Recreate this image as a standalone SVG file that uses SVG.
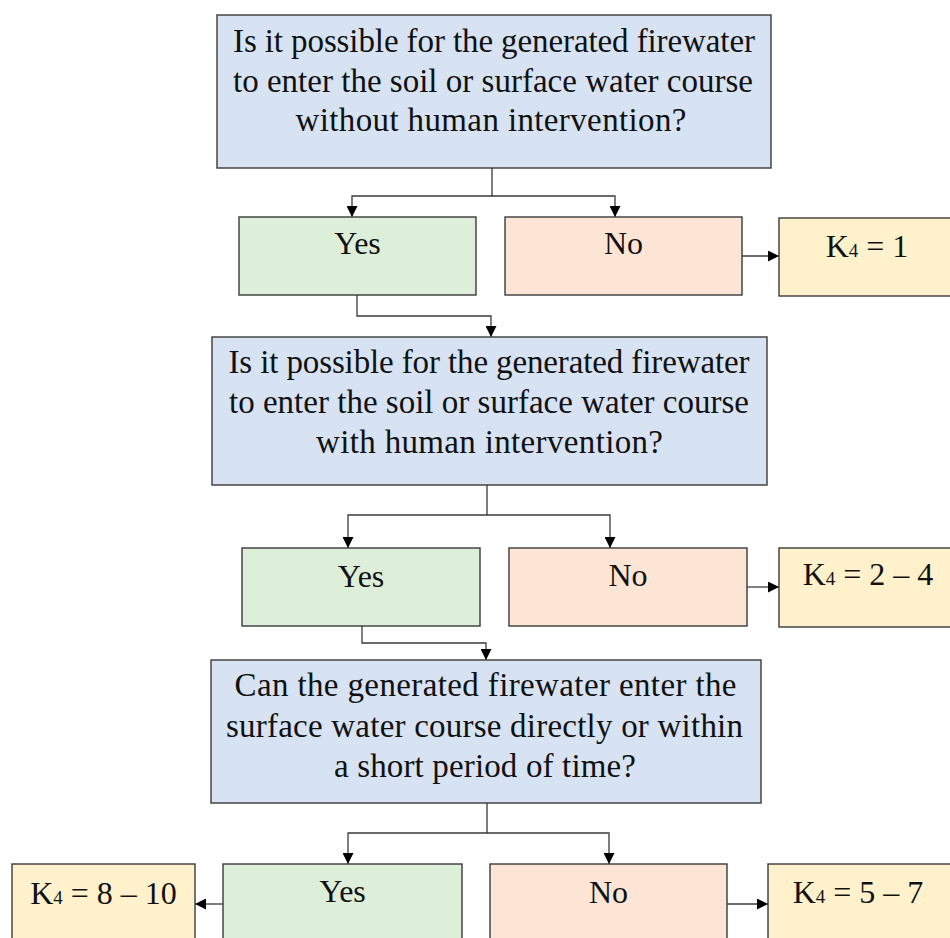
<svg xmlns="http://www.w3.org/2000/svg" width="950" height="938" viewBox="0 0 950 938">
  <defs>
    <marker id="arrow" viewBox="0 0 10 10" markerWidth="11" markerHeight="11" refX="10" refY="5" orient="auto" markerUnits="userSpaceOnUse">
      <path d="M0,0 L10,5 L0,10 z" fill="#000"/>
    </marker>
    <style>
      .box { stroke: #3a3a3a; stroke-width: 1.4; }
      .q { fill: #d7e3f3; }
      .yes { fill: #ddeed9; }
      .no { fill: #fde5d6; }
      .k { fill: #fff1cb; }
      .t { font-family: "Liberation Serif", "Times New Roman", serif; font-size: 32px; fill: #111; text-anchor: middle; }
      .ql { font-size: 33px; }
      .sub { font-size: 19px; }
      .conn path { fill: none; stroke: #3a3a3a; stroke-width: 1.3; }
      .arr { marker-end: url(#arrow); }
    </style>
  </defs>
  <rect width="950" height="938" fill="#fff"/>

  <g id="connectors" class="conn">
    <path class="arr" d="M492,168 V196 H352 V217"/>
    <path class="arr" d="M492,196 H615 V217"/>
    <path class="arr" d="M742,256 H779"/>
    <path class="arr" d="M357,295 V316 H491 V337"/>
    <path class="arr" d="M487,485 V515 H348 V548"/>
    <path class="arr" d="M487,515 H610 V548"/>
    <path class="arr" d="M747,587 H779"/>
    <path class="arr" d="M362,626 V643 H486 V660"/>
    <path class="arr" d="M487,803 V833 H348 V864"/>
    <path class="arr" d="M487,833 H609 V864"/>
    <path class="arr" d="M223,904 H195"/>
    <path class="arr" d="M727,904 H768"/>
  </g>

  <g id="q1">
    <rect class="box q" x="217" y="15" width="554" height="153"/>
    <text class="t ql" x="494" y="52" textLength="522" lengthAdjust="spacing">Is it possible for the generated firewater</text>
    <text class="t ql" x="493" y="92" textLength="520" lengthAdjust="spacing">to enter the soil or surface water course</text>
    <text class="t ql" x="491" y="131" textLength="391" lengthAdjust="spacing">without human intervention?</text>
  </g>
  <g id="yes1">
    <rect class="box yes" x="239" y="217" width="237" height="78"/>
    <text class="t" x="357.5" y="254">Yes</text>
  </g>
  <g id="no1">
    <rect class="box no" x="505" y="217" width="237" height="78"/>
    <text class="t" x="623.5" y="254">No</text>
  </g>
  <g id="k1">
    <rect class="box k" x="779" y="218" width="182" height="78"/>
    <text class="t" x="867" y="257">K<tspan class="sub">4</tspan> = 1</text>
  </g>

  <g id="q2">
    <rect class="box q" x="212" y="337" width="555" height="148"/>
    <text class="t ql" x="489" y="373" textLength="521" lengthAdjust="spacing">Is it possible for the generated firewater</text>
    <text class="t ql" x="489" y="413" textLength="520" lengthAdjust="spacing">to enter the soil or surface water course</text>
    <text class="t ql" x="489.5" y="453" textLength="347" lengthAdjust="spacing">with human intervention?</text>
  </g>
  <g id="yes2">
    <rect class="box yes" x="242" y="548" width="238" height="78"/>
    <text class="t" x="361" y="587">Yes</text>
  </g>
  <g id="no2">
    <rect class="box no" x="509" y="548" width="238" height="78"/>
    <text class="t" x="628" y="586">No</text>
  </g>
  <g id="k2">
    <rect class="box k" x="779" y="548" width="182" height="79"/>
    <text class="t" x="868" y="585">K<tspan class="sub">4</tspan> = 2 – 4</text>
  </g>

  <g id="q3">
    <rect class="box q" x="211" y="660" width="550" height="143"/>
    <text class="t ql" x="485.5" y="696" textLength="502" lengthAdjust="spacing">Can the generated firewater enter the</text>
    <text class="t ql" x="484.5" y="737" textLength="517" lengthAdjust="spacing">surface water course directly or within</text>
    <text class="t ql" x="485" y="777" textLength="302" lengthAdjust="spacing">a short period of time?</text>
  </g>
  <g id="k3a">
    <rect class="box k" x="12" y="864" width="183" height="82"/>
    <text class="t" x="103.5" y="904">K<tspan class="sub">4</tspan> = 8 – 10</text>
  </g>
  <g id="yes3">
    <rect class="box yes" x="223" y="864" width="239" height="82"/>
    <text class="t" x="342.5" y="902">Yes</text>
  </g>
  <g id="no3">
    <rect class="box no" x="490" y="864" width="237" height="82"/>
    <text class="t" x="608.5" y="903">No</text>
  </g>
  <g id="k3b">
    <rect class="box k" x="768" y="864" width="192" height="82"/>
    <text class="t" x="858" y="903">K<tspan class="sub">4</tspan> = 5 – 7</text>
  </g>
</svg>
